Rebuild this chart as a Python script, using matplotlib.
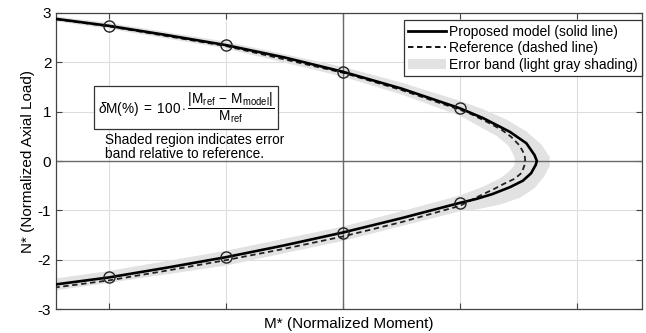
import matplotlib
matplotlib.use("Agg")
import matplotlib.pyplot as plt
from matplotlib.lines import Line2D
from matplotlib.patches import Patch

plt.rcParams['font.family'] = ['Liberation Sans', 'DejaVu Sans']
plt.rcParams['mathtext.fontset'] = 'custom'
plt.rcParams['mathtext.rm'] = 'Liberation Sans'
plt.rcParams['mathtext.it'] = 'Liberation Sans:italic'
plt.rcParams['mathtext.bf'] = 'Liberation Sans:bold'

# proposed model (solid)
model_M = [-2.45, -2.0, -1.5, -1.0, -0.5, 0.0, 0.5, 1.0, 1.2, 1.43, 1.57, 1.64, 1.66,
           1.65, 1.61, 1.54, 1.43, 1.28, 1.14, 1.0, 0.5, 0.0, -0.5, -1.0, -1.5, -2.0, -2.45]
model_N = [2.88, 2.74, 2.55, 2.35, 2.10, 1.81, 1.47, 1.07, 0.87, 0.59, 0.36, 0.12, 0.0,
           -0.08, -0.25, -0.40, -0.53, -0.67, -0.77, -0.85, -1.16, -1.45, -1.71, -1.95, -2.16, -2.36, -2.50]

# reference (dashed)
ref_M = [-2.45, -2.0, -1.0, 0.0, 0.5, 1.0, 1.09, 1.26, 1.36, 1.44, 1.51, 1.555, 1.56,
         1.555, 1.53, 1.47, 1.38, 1.30, 1.15, 1.0, 0.5, 0.0, -0.5, -1.0, -1.5, -2.0, -2.45]
ref_N = [2.87, 2.73, 2.33, 1.79, 1.44, 1.04, 0.96, 0.76, 0.63, 0.49, 0.32, 0.13, 0.02,
         -0.08, -0.24, -0.36, -0.46, -0.56, -0.73, -0.91, -1.24, -1.53, -1.78, -2.01, -2.22, -2.42, -2.56]

# error band edges
band_out_M = [-2.45, -2.0, -1.0, 0.0, 0.5, 1.0, 1.2, 1.4, 1.57, 1.70, 1.77, 1.77, 1.72,
              1.64, 1.52, 1.35, 1.15, 1.0, 0.5, 0.0, -1.0, -2.0, -2.45]
band_out_N = [2.93, 2.80, 2.42, 1.91, 1.59, 1.22, 1.05, 0.84, 0.60, 0.33, 0.08, -0.10, -0.32,
              -0.55, -0.74, -0.88, -0.98, -1.02, -1.32, -1.62, -2.12, -2.47, -2.62]
band_in_M = [-2.45, -2.0, -1.0, 0.0, 0.5, 1.0, 1.2, 1.34, 1.42, 1.47, 1.47, 1.42, 1.32,
             1.2, 1.0, 0.5, 0.0, -1.0, -2.0, -2.45]
band_in_N = [-2.38, -2.23, -1.82, -1.33, -1.02, -0.70, -0.52, -0.36, -0.22, -0.08, 0.08, 0.30, 0.50,
             0.66, 0.92, 1.35, 1.71, 2.28, 2.68, 2.83]

# circle markers on the model curve
mark_M = [-2, -1, 0, 1, -2, -1, 0, 1]
mark_N = [2.74, 2.35, 1.81, 1.07, -2.36, -1.95, -1.45, -0.85]

y_ticks = [-3, -2, -1, 0, 1, 2, 3]
y_labels = ['-3', '-2', '-1', '0', '1', '2', '3']
x_ticks = [-2, -1, 0, 1, 2]

fig = plt.figure(figsize=(6.46, 3.33), dpi=100)
ax = fig.add_axes([0.087, 0.072, 0.907, 0.889])

ax.fill(band_out_M + band_in_M, band_out_N + band_in_N, color='#e2e2e2', lw=0, zorder=1)
ax.axhline(0, color='#6a6a6a', lw=1.0, zorder=2)
ax.axvline(0, color='#6a6a6a', lw=1.0, zorder=2)
ax.plot(ref_M, ref_N, color='#222222', lw=1.3, ls=(0, (3, 2)), zorder=3)
ax.plot(model_M, model_N, color='black', lw=1.9, zorder=4)
ax.plot(mark_M, mark_N, 'o', ms=8, mfc='none', mec='#222222', mew=1.0, zorder=5)

ax.set_xlim(-2.45, 2.56)
ax.set_ylim(-3, 3)
ax.set_xticks(x_ticks)
ax.set_xticklabels([])
ax.set_yticks(y_ticks)
ax.set_yticklabels(y_labels, fontsize=11)
ax.tick_params(direction='in', top=True, right=True, length=4, color='#444444')
ax.grid(True, color='#dddddd', lw=0.8)
ax.set_axisbelow(True)
for s in ax.spines.values():
    s.set_color('#444444')
    s.set_linewidth(0.9)

ax.set_xlabel('M* (Normalized Moment)', fontsize=11, labelpad=2)
ax.set_ylabel('N* (Normalized Axial Load)', fontsize=11, labelpad=2)

ax.text(-1.34, 1.09,
        r'$\delta\mathrm{M}(\%)\;=\;100\cdot\dfrac{|\mathrm{M}_{\mathrm{ref}}\,-\,\mathrm{M}_{\mathrm{model}}|}{\mathrm{M}_{\mathrm{ref}}}$',
        ha='center', va='center', fontsize=9.8, zorder=6,
        bbox=dict(boxstyle='square,pad=0.3', fc='white', ec='#333333', lw=0.9))
ax.text(-2.03, 0.57, 'Shaded region indicates error\nband relative to reference.',
        ha='left', va='top', fontsize=9.8, linespacing=1.05, zorder=6)

handles = [Line2D([], [], color='black', lw=2.0),
           Line2D([], [], color='black', lw=1.3, ls=(0, (3, 2))),
           Patch(facecolor='#e2e2e2', edgecolor='none')]
labels = ['Proposed model (solid line)', 'Reference (dashed line)', 'Error band (light gray shading)']
leg = ax.legend(handles, labels, loc='upper right', bbox_to_anchor=(1.0, 0.975), fontsize=10,
                handlelength=2.7, handletextpad=0.25, labelspacing=0.2, borderpad=0.3,
                borderaxespad=0.0, fancybox=False, framealpha=1, edgecolor='#333333')
leg.get_frame().set_linewidth(0.9)
leg.set_zorder(7)

fig.savefig('out.png', dpi=100)
